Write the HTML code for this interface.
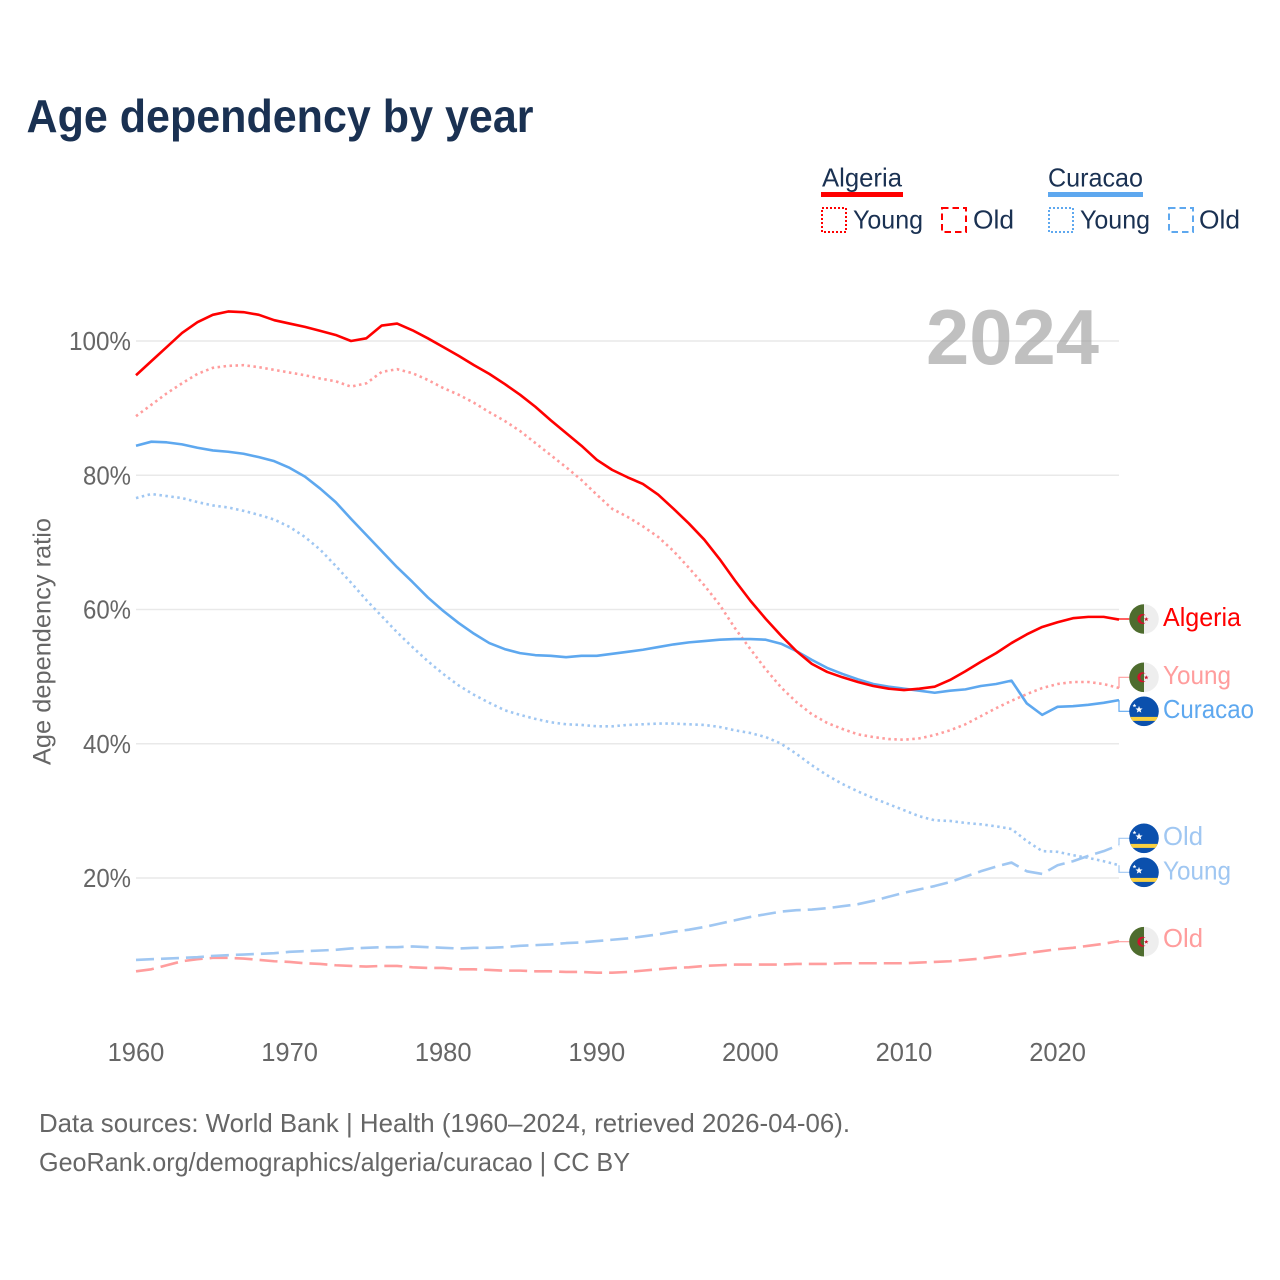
<!DOCTYPE html>
<html lang="en">
<head>
<meta charset="utf-8">
<title>Age dependency by year</title>
<style>
html,body{margin:0;padding:0;background:#fff;}
svg{display:block;}
text{font-family:"Liberation Sans",sans-serif;}
</style>
</head>
<body>
<svg id="chart" xmlns="http://www.w3.org/2000/svg" width="1280" height="1280" viewBox="0 0 1280 1280">
<defs>
  <clipPath id="flag-clip"><circle cx="0" cy="0" r="14.8"/></clipPath>
  <g id="flag-algeria" clip-path="url(#flag-clip)">
    <rect x="-15" y="-15" width="30" height="30" fill="#eeeeee"/>
    <rect x="-15" y="-15" width="15" height="30" fill="#4e6c2e"/>
    <path d="M1.8,-3.6 A5,5 0 1 0 1.8,3.6 A3.9,3.9 0 1 1 1.8,-3.6 Z" fill="#d2112c"/>
    <polygon points="2.2,-2 2.9,-0.5 4.6,-0.5 3.2,0.5 3.8,2.1 2.2,1.1 0.8,2.1 1.3,0.5 0,-0.5 1.6,-0.5" fill="#d2112c"/>
  </g>
  <g id="flag-curacao" clip-path="url(#flag-clip)">
    <rect x="-15" y="-15" width="30" height="30" fill="#0b50ad"/>
    <rect x="-15" y="5.6" width="30" height="4" fill="#f9d03f"/>
    <polygon points="-5,-5.4 -4,-2.9 -1.4,-2.8 -3.4,-1.2 -2.7,1.3 -5,-0.1 -7.2,1.3 -6.5,-1.2 -8.5,-2.8 -5.9,-2.9" fill="#ffffff"/>
    <polygon points="-9.5,-7.7 -8.9,-6.4 -7.6,-6.3 -8.6,-5.4 -8.3,-4.1 -9.5,-4.8 -10.7,-4.1 -10.4,-5.4 -11.4,-6.3 -10.1,-6.4" fill="#ffffff"/>
  </g>
</defs>

<text x="26.5" y="132" font-size="46" font-weight="700" fill="#1a3152" textLength="507" lengthAdjust="spacingAndGlyphs">Age dependency by year</text>

<g>
  <g>
    <text x="822" y="186.5" font-size="26" fill="#1a3152" textLength="80" lengthAdjust="spacingAndGlyphs">Algeria</text>
    <rect x="821" y="192" width="82" height="5" fill="#ff0000"/>
    <rect x="822" y="208" width="24" height="24" fill="none" stroke="#ff0000" stroke-width="2" stroke-dasharray="2 2"/>
    <text x="853" y="228.5" font-size="26" fill="#1a3152" textLength="70" lengthAdjust="spacingAndGlyphs">Young</text>
    <rect x="942" y="208" width="24" height="24" fill="none" stroke="#ff0000" stroke-width="2" stroke-dasharray="6.5 4"/>
    <text x="973" y="228.5" font-size="26" fill="#1a3152" textLength="41" lengthAdjust="spacingAndGlyphs">Old</text>
  </g>
  <g>
    <text x="1048" y="186.5" font-size="26" fill="#1a3152" textLength="95" lengthAdjust="spacingAndGlyphs">Curacao</text>
    <rect x="1048" y="192" width="95" height="5" fill="#5ea8ef"/>
    <rect x="1049" y="208" width="24" height="24" fill="none" stroke="#5ea8ef" stroke-width="2" stroke-dasharray="2 2"/>
    <text x="1080" y="228.5" font-size="26" fill="#1a3152" textLength="70" lengthAdjust="spacingAndGlyphs">Young</text>
    <rect x="1169" y="208" width="24" height="24" fill="none" stroke="#5ea8ef" stroke-width="2" stroke-dasharray="6.5 4"/>
    <text x="1199" y="228.5" font-size="26" fill="#1a3152" textLength="41" lengthAdjust="spacingAndGlyphs">Old</text>
  </g>
</g>

<g id="grid"></g>
<g id="y-ticks"></g>
<g id="x-ticks"></g>
<text transform="translate(50.5,641.5) rotate(-90)" text-anchor="middle" font-size="25" fill="#666666" textLength="247" lengthAdjust="spacingAndGlyphs">Age dependency ratio</text>
<text x="926" y="364" font-size="78" font-weight="700" fill="#999999" fill-opacity="0.62" textLength="173" lengthAdjust="spacingAndGlyphs">2024</text>
<g id="series"></g>
<g id="connectors"></g>

<g>
  <use href="#flag-algeria" x="1144" y="619"/>
  <text x="1163" y="626" font-size="26" fill="#ff0000" textLength="78" lengthAdjust="spacingAndGlyphs">Algeria</text>
  <use href="#flag-algeria" x="1144" y="677.3"/>
  <text x="1163" y="684" font-size="26" fill="#ff9d9d" textLength="68" lengthAdjust="spacingAndGlyphs">Young</text>
  <use href="#flag-curacao" x="1144" y="711.3"/>
  <text x="1163" y="718" font-size="26" fill="#5ea8ef" textLength="91" lengthAdjust="spacingAndGlyphs">Curacao</text>
  <use href="#flag-curacao" x="1144" y="838.3"/>
  <text x="1163" y="845" font-size="26" fill="#a0c7f2" textLength="40" lengthAdjust="spacingAndGlyphs">Old</text>
  <use href="#flag-curacao" x="1144" y="872.3"/>
  <text x="1163" y="879.5" font-size="26" fill="#a0c7f2" textLength="68" lengthAdjust="spacingAndGlyphs">Young</text>
  <use href="#flag-algeria" x="1144" y="941.7"/>
  <text x="1163" y="947" font-size="26" fill="#ff9d9d" textLength="40" lengthAdjust="spacingAndGlyphs">Old</text>
</g>

<text x="39" y="1132" font-size="26" fill="#666666" textLength="811" lengthAdjust="spacingAndGlyphs">Data sources: World Bank | Health (1960–2024, retrieved 2026-04-06).</text>
<text x="39" y="1171" font-size="26" fill="#666666" textLength="591" lengthAdjust="spacingAndGlyphs">GeoRank.org/demographics/algeria/curacao | CC BY</text>
</svg>

<script>
const years = [1960,1961,1962,1963,1964,1965,1966,1967,1968,1969,
1970,1971,1972,1973,1974,1975,1976,1977,1978,1979,
1980,1981,1982,1983,1984,1985,1986,1987,1988,1989,
1990,1991,1992,1993,1994,1995,1996,1997,1998,1999,
2000,2001,2002,2003,2004,2005,2006,2007,2008,2009,
2010,2011,2012,2013,2014,2015,2016,2017,2018,2019,
2020,2021,2022,2023,2024];

const algeriaTotal = [94.9,97.0,99.1,101.2,102.8,103.9,104.4,104.3,103.9,103.1,
102.6,102.1,101.5,100.9,100.0,100.4,102.3,102.6,101.6,100.4,
99.1,97.8,96.4,95.1,93.6,92.0,90.2,88.2,86.3,84.4,
82.3,80.8,79.7,78.7,77.1,75.0,72.8,70.4,67.5,64.3,
61.3,58.6,56.1,53.8,51.9,50.7,49.9,49.2,48.6,48.2,
48.0,48.2,48.5,49.5,50.8,52.2,53.5,55.0,56.3,57.4,
58.1,58.7,58.9,58.9,58.5];

const algeriaYoung = [88.8,90.5,92.2,93.7,95.1,96.0,96.3,96.4,96.1,95.7,
95.3,94.9,94.4,94.0,93.2,93.7,95.4,95.8,95.2,94.2,
93.0,92.0,90.8,89.4,88.1,86.6,84.8,83.0,81.2,79.3,
77.1,75.0,73.8,72.4,70.8,68.7,66.2,63.6,60.7,57.2,
54.1,51.1,48.4,46.2,44.4,43.1,42.2,41.4,41.0,40.7,
40.6,40.8,41.3,42.0,42.9,44.1,45.3,46.4,47.4,48.3,
48.9,49.2,49.2,48.9,48.3];

const algeriaOld = [6.1,6.4,7.0,7.6,7.9,8.1,8.1,8.0,7.8,7.6,
7.5,7.3,7.2,7.0,6.9,6.8,6.9,6.9,6.7,6.6,
6.6,6.4,6.4,6.3,6.2,6.2,6.1,6.1,6.0,6.0,
5.9,5.9,6.0,6.2,6.4,6.6,6.7,6.9,7.0,7.1,
7.1,7.1,7.1,7.2,7.2,7.2,7.3,7.3,7.3,7.3,
7.3,7.4,7.5,7.6,7.8,8.0,8.3,8.5,8.8,9.1,
9.4,9.6,9.9,10.2,10.6];

const curacaoTotal = [84.4,85.0,84.9,84.6,84.1,83.7,83.5,83.2,82.7,82.1,
81.1,79.8,78.0,76.0,73.5,71.1,68.7,66.3,64.1,61.8,
59.8,58.0,56.4,55.0,54.1,53.5,53.2,53.1,52.9,53.1,
53.1,53.4,53.7,54.0,54.4,54.8,55.1,55.3,55.5,55.6,
55.6,55.5,54.9,53.8,52.5,51.3,50.4,49.6,48.9,48.5,
48.2,47.9,47.6,47.9,48.1,48.6,48.9,49.4,46.0,44.3,
45.5,45.6,45.8,46.1,46.5];

const curacaoYoung = [76.6,77.2,76.9,76.6,76.0,75.5,75.2,74.7,74.1,73.4,
72.3,70.8,68.9,66.5,64.0,61.4,59.0,56.6,54.4,52.3,
50.4,48.7,47.3,46.1,45.0,44.3,43.7,43.2,42.9,42.8,
42.6,42.6,42.8,42.9,43.0,43.0,42.9,42.8,42.5,42.0,
41.6,41.0,40.0,38.5,36.8,35.3,34.0,32.9,31.9,31.0,
30.1,29.2,28.6,28.5,28.2,28.0,27.7,27.3,25.5,24.0,
23.9,23.4,23.0,22.5,21.9];

const curacaoOld = [7.8,7.9,8.0,8.1,8.2,8.4,8.5,8.6,8.7,8.8,
9.0,9.1,9.2,9.3,9.5,9.6,9.7,9.7,9.8,9.7,
9.6,9.5,9.6,9.6,9.7,9.9,10.0,10.1,10.3,10.4,
10.6,10.8,11.0,11.3,11.6,12.0,12.3,12.7,13.2,13.7,
14.2,14.6,15.0,15.2,15.3,15.5,15.8,16.1,16.6,17.2,
17.8,18.3,18.8,19.4,20.2,21.0,21.7,22.3,21.0,20.6,
21.9,22.5,23.3,24.0,24.9];

const yTickValues = [20,40,60,80,100];
const yTickLabels = ['20%','40%','60%','80%','100%'];
const xTickValues = [1960,1970,1980,1990,2000,2010,2020];
const xTickLabels = ['1960','1970','1980','1990','2000','2010','2020'];

const NS = 'http://www.w3.org/2000/svg';
const xScale = function (year) { return 136 + (year - 1960) * (1119 - 136) / 64; };
const yScale = function (value) { return 878 - (value - 20) * 6.7125; };

const gridGroup = document.getElementById('grid');
const yTickGroup = document.getElementById('y-ticks');
yTickValues.forEach(function (v, i) {
  const line = document.createElementNS(NS, 'line');
  
  
  line.setAttribute('x1', 136);
  line.setAttribute('x2', 1119);
  line.setAttribute('y1', yScale(v));
  line.setAttribute('y2', yScale(v));
  line.setAttribute('stroke', '#e9e9e9');
  line.setAttribute('stroke-width', '1.4');
  gridGroup.appendChild(line);

  const label = document.createElementNS(NS, 'text');
  
  
  label.setAttribute('x', 131);
  label.setAttribute('y', yScale(v) + 9);
  label.setAttribute('text-anchor', 'end');
  label.setAttribute('font-size', '25.5');
  label.setAttribute('fill', '#666666');
  label.setAttribute('textLength', v === 100 ? 62 : 48);
  label.setAttribute('lengthAdjust', 'spacingAndGlyphs');
  label.textContent = yTickLabels[i];
  yTickGroup.appendChild(label);
});

const xTickGroup = document.getElementById('x-ticks');
xTickValues.forEach(function (v, i) {
  const label = document.createElementNS(NS, 'text');
  
  
  label.setAttribute('x', xScale(v));
  label.setAttribute('y', 1061);
  label.setAttribute('text-anchor', 'middle');
  label.setAttribute('font-size', '25.5');
  label.setAttribute('fill', '#666666');
  label.textContent = xTickLabels[i];
  xTickGroup.appendChild(label);
});

const seriesList = [
  { name: 'algeria-old', values: algeriaOld, color: '#ff9d9d', dash: '18 7', labelY: 941.7 },
  { name: 'curacao-old', values: curacaoOld, color: '#a0c7f2', dash: '18 7', labelY: 838.3 },
  { name: 'curacao-young', values: curacaoYoung, color: '#a0c7f2', dash: '2.5 3.5', labelY: 872.3 },
  { name: 'algeria-young', values: algeriaYoung, color: '#ff9d9d', dash: '2.5 3.5', labelY: 677.3 },
  { name: 'curacao-total', values: curacaoTotal, color: '#5ea8ef', dash: '', labelY: 711.3 },
  { name: 'algeria-total', values: algeriaTotal, color: '#ff0000', dash: '', labelY: 619 }
];

const seriesGroup = document.getElementById('series');
const connectorGroup = document.getElementById('connectors');
seriesList.forEach(function (s) {
  const d = s.values.map(function (v, i) {
    return (i ? 'L' : 'M') + xScale(years[i]).toFixed(2) + ',' + yScale(v).toFixed(2);
  }).join(' ');
  const path = document.createElementNS(NS, 'path');
  
  
  path.setAttribute('d', d);
  path.setAttribute('fill', 'none');
  path.setAttribute('stroke', s.color);
  path.setAttribute('stroke-width', '2.6');
  path.setAttribute('stroke-linejoin', 'round');
  if (s.dash) path.setAttribute('stroke-dasharray', s.dash);
  seriesGroup.appendChild(path);

  const endY = yScale(s.values[s.values.length - 1]);
  const conn = document.createElementNS(NS, 'path');
  
  
  conn.setAttribute('d', 'M1119,' + endY.toFixed(2) + ' L1119,' + s.labelY + ' L1130,' + s.labelY);
  conn.setAttribute('fill', 'none');
  conn.setAttribute('stroke', s.color);
  conn.setAttribute('stroke-width', '1.2');
  connectorGroup.appendChild(conn);
});
</script>
</body>
</html>
